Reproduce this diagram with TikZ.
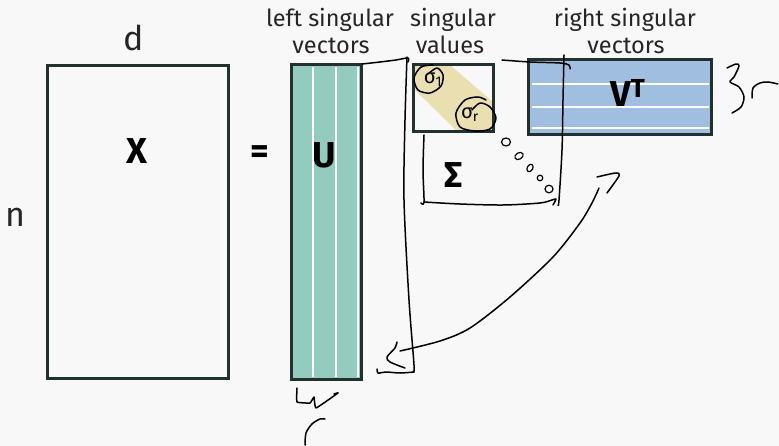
\documentclass[tikz,border=0pt]{standalone}
\usepackage{fontspec}
\setmainfont{Fira Sans}
\definecolor{bgc}{HTML}{F8F8F8}
\definecolor{edge}{HTML}{233030}
\definecolor{teal}{HTML}{93CCBF}
\definecolor{beige}{HTML}{E9DFB0}
\definecolor{vblue}{HTML}{A0BEDF}
\definecolor{txt}{HTML}{262626}
\begin{document}
\begin{tikzpicture}[x=1pt,y=-1pt,
  hand/.style={line width=1.5pt, line cap=round, line join=round, black},
  mat/.style={draw=edge, line width=3pt, inner sep=0pt},
  lbl/.style={font=\fontsize{23.5}{28}\selectfont, text=txt, anchor=base, inner sep=0pt},
  dim/.style={font=\fontsize{34}{34}\selectfont, text=txt, inner sep=0pt},
  big/.style={font=\fontsize{36}{36}\selectfont\bfseries, text=black, inner sep=0pt},
  sig/.style={font=\fontsize{20}{20}\selectfont, text=black, inner sep=0pt},
  stripe/.style={white, line width=1.5pt}]
\path[use as bounding box, fill=bgc] (0,0) rectangle (779,446);

% X
\node[mat, minimum width=181pt, minimum height=312pt] (Xb) at (137.5,222) {};
\node[big] (Xl) at (137,151) {X};
\node[dim] (d) at (134,37.5) {d};
\node[dim] (n) at (15.5,217.5) {n};
\node[big] (eq) at (259.5,155) {=};

% U
\node[mat, fill=teal, draw=none, minimum width=67pt, minimum height=312pt] (Ub) at (326.5,222) {};
\foreach \x in {313,336,358} \draw[stripe] (\x,67.5) -- (\x,376.5);
\draw[edge, line width=3pt] (Ub.south west) rectangle (Ub.north east);
\node[big] (Ul) at (324,155) {U};
\node[lbl] (lsv1) at (330,27) {left singular};
\node[lbl] (lsv2) at (331,54) {vectors};

% Sigma
\fill[beige] (413,65) -- (450,65) -- (493,102) -- (493,132) -- (458,132) -- (413,88) -- cycle;
\node[mat, minimum width=80pt, minimum height=67pt] (Sb) at (453,98.5) {};
\node[big] (Sl) at (454,175) {Σ};
\node[lbl] (sv1) at (453,27) {singular};
\node[lbl] (sv2) at (450,54) {values};
\node[sig] (s1) at (433,80) {σ\textsubscript{1}};
\node[sig] (sr) at (470,115) {σ\textsubscript{r}};
\draw[hand] plot[smooth] coordinates {(428,74)(437,68)(443,75)(441,86)(430,93)(418,90)(414,78)(421,67)(433,65)};
\draw[hand] plot[smooth] coordinates {(472,110)(480,103)(490,107)(496,118)(490,129)(475,131)(460,127)(456,113)(465,100)(478,97)(486,100)};

% V^T
\node[mat, fill=vblue, draw=none, minimum width=180pt, minimum height=72pt] (Vb) at (620,97.5) {};
\foreach \y in {84,107,128} \draw[stripe] (531.5,\y) -- (708.5,\y);
\draw[edge, line width=3pt] (Vb.south west) rectangle (Vb.north east);
\node[big, anchor=base] (Vl) at (628,107) {V\textsuperscript{\normalfont\bfseries\fontsize{26}{26}\selectfont T}};
\node[lbl] (rsv1) at (625,27) {right singular};
\node[lbl] (rsv2) at (626,54) {vectors};

% dots
\draw[hand, line width=1.2pt] (506,142) ellipse [x radius=4.5, y radius=4];
\draw[hand, line width=1.2pt, rotate around={30:(519,156)}] (519,156) ellipse [x radius=4.5, y radius=3.2];
\draw[hand, line width=1.2pt, rotate around={60:(530,168)}] (530,168) ellipse [x radius=4, y radius=2.8];
\draw[hand, line width=1.2pt] (540,178) ellipse [x radius=2.8, y radius=2.8];
\draw[hand, line width=1.2pt] (549,189) ellipse [x radius=4, y radius=3.8];

% left bracket (around U)
\draw[hand] plot[smooth] coordinates {(362,64)(380,62)(396,60)(408,58)(408,62)};
\draw[hand] plot[smooth] coordinates {(407,57)(405,120)(404,200)(409,300)(414,365)(413,372)};
\draw[hand] plot[smooth] coordinates {(414,372)(400,373)(386,372)(378,373)(377,369)};

% Sigma bracket
\draw[hand] plot[smooth] coordinates {(424,135)(423,170)(424,202)(421,203)};
\draw[hand] plot[smooth] coordinates {(424,202)(460,204)(503,205)(540,203)(552,200)(556,199)(553,205)};

% right bracket (around V^T)
\draw[hand] plot[smooth] coordinates {(502,60)(530,62)(560,63)(569,65)(570,69)};
\draw[hand] plot[smooth] coordinates {(564,55)(563,100)(562,150)(559,200)(558,205)};

% curved arrow
\coordinate (tipL) at (400,351);
\draw[hand] plot[smooth] coordinates {(400,351)(440,341)(470,328)(510,297)(553,257)(580,223)(592,203)(599,188)};
\draw[hand] plot[smooth] coordinates {(397,342)(395,348)(387,357)(390,362)(405,368)};
\draw[hand] plot[smooth] coordinates {(597,177)(610,174)(617,173)(619,176)(607,193)};

% 3r on the right
\draw[hand] plot[smooth, tension=0.5] coordinates {(727,68)(736,64)(739,66)(734,77)(730,82)(739,87)(744,97)(741,107)(732,113)};
\draw[hand] plot[smooth] coordinates {(752,98)(753,88)(760,83)(768,82)(778,84)};

% L w r under U
\draw[hand] plot[smooth, tension=0.2] coordinates {(297,388)(297,402)(310,403)(314,397)(316,408)(338,393)(334,394)};
\draw[hand] plot[smooth] coordinates {(305,445)(306,433)(312,424)(320,419)(325,419)};
\end{tikzpicture}
\end{document}
